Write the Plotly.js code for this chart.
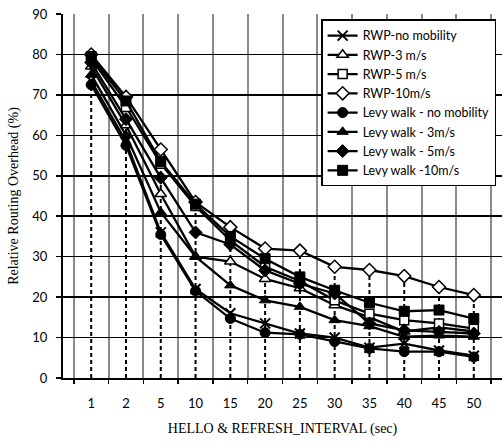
<!DOCTYPE html>
<html>
<head>
<meta charset="utf-8">
<script src="https://cdn.plot.ly/plotly-3.0.1.min.js"></script>
<style>
html,body{margin:0;padding:0;background:#fff;overflow:hidden;}
#chart{width:502px;height:443px;}
</style>
</head>
<body>
<div id="chart"></div>
<script>
const categories = ['1','2','5','10','15','20','25','30','35','40','45','50'];

const seriesNames = ['RWP-no mobility','RWP-3 m/s','RWP-5 m/s','RWP-10m/s',
  'Levy walk - no mobility','Levy walk - 3m/s','Levy walk - 5m/s','Levy walk -10m/s'];

const rwpNoMobility  = [73.5, 58.5, 36.0, 22.0, 16.0, 13.5, 11.0, 10.0, 7.5, 8.5, 6.8, 5.5];
const rwp3           = [77.0, 62.5, 45.5, 30.0, 28.8, 24.5, 22.2, 18.0, 15.0, 11.5, 12.5, 11.5];
const rwp5           = [79.0, 67.0, 53.0, 42.5, 34.0, 27.5, 24.0, 19.2, 15.9, 14.3, 13.5, 12.2];
const rwp10          = [80.0, 69.5, 56.5, 43.5, 37.3, 32.0, 31.5, 27.5, 26.7, 25.2, 22.5, 20.5];
const levyNoMobility = [72.5, 57.5, 35.5, 21.5, 14.7, 11.2, 10.8, 9.0, 7.3, 6.5, 6.5, 5.2];
const levy3          = [75.0, 60.0, 41.0, 30.0, 22.9, 19.2, 17.6, 14.3, 12.8, 10.2, 10.5, 10.2];
const levy5          = [78.0, 64.0, 49.5, 36.0, 33.0, 26.6, 23.3, 20.9, 13.5, 11.8, 11.4, 11.0];
const levy10         = [79.5, 68.5, 53.5, 43.0, 35.0, 29.5, 25.0, 21.7, 18.6, 16.5, 16.8, 14.7];

const allSeries = [rwpNoMobility, rwp3, rwp5, rwp10, levyNoMobility, levy3, levy5, levy10];
const markerStyles = [
  {symbol:'x-thin', size:10, color:'black', line:{color:'black', width:2}},
  {symbol:'triangle-up', size:10, color:'white', line:{color:'black', width:1.5}},
  {symbol:'square', size:9, color:'white', line:{color:'black', width:1.5}},
  {symbol:'diamond', size:10, color:'white', line:{color:'black', width:1.5}},
  {symbol:'circle', size:10, color:'black', line:{color:'black', width:1}},
  {symbol:'triangle-up', size:10, color:'black', line:{color:'black', width:1}},
  {symbol:'diamond', size:10, color:'black', line:{color:'black', width:1}},
  {symbol:'square', size:10, color:'black', line:{color:'black', width:1}}
];

// drop lines from axis up to the highest point of each category
const dropX = [], dropY = [];
categories.forEach((c, i) => {
  const mx = Math.max(...allSeries.map(s => s[i]));
  dropX.push(c, c, null);
  dropY.push(0, mx, null);
});

const traces = [{
  x: dropX, y: dropY, mode: 'lines', type: 'scatter', showlegend: false,
  hoverinfo: 'skip', line: {color: 'black', width: 2, dash: '4px,3px'}
}];
allSeries.forEach((s, k) => {
  traces.push({
    x: categories, y: s, name: seriesNames[k], type: 'scatter', mode: 'lines+markers',
    line: {color: 'black', width: 2.3}, marker: markerStyles[k]
  });
});

const layout = {
  width: 502, height: 443,
  margin: {l: 63, r: 0, t: 14, b: 65},
  paper_bgcolor: 'white', plot_bgcolor: 'white',
  font: {family: 'Lato, "Liberation Sans", sans-serif', size: 13, color: 'black'},
  showlegend: true,
  legend: {
    x: 0.588, y: 0.985, xanchor: 'left', yanchor: 'top',
    bgcolor: 'white', bordercolor: 'black', borderwidth: 1.5,
    font: {family: 'Lato, "Liberation Sans", sans-serif', size: 12.5, color: 'black'},
    itemwidth: 30, tracegroupgap: 0
  },
  xaxis: {
    type: 'category', categoryorder: 'array', categoryarray: categories,
    tickson: 'boundaries', showgrid: true, gridcolor: '#8a8a8a', gridwidth: 2,
    ticks: 'outside', ticklen: 4, tickcolor: 'black', tickwidth: 1.5,
    showline: true, linecolor: 'black', linewidth: 2,
    ticklabelstandoff: 12, zeroline: false,
    title: {text: 'HELLO &amp; REFRESH_INTERVAL (sec)', standoff: 14,
      font: {family: '"Liberation Serif", "Times New Roman", serif', size: 14, color: 'black'}}
  },
  yaxis: {
    range: [0, 90], dtick: 10, showgrid: true, gridcolor: 'black', gridwidth: 1.5,
    ticks: 'outside', ticklen: 5, tickcolor: 'black', tickwidth: 1.5,
    showline: true, linecolor: 'black', linewidth: 2, zeroline: false,
    ticklabelstandoff: 6,
    title: {text: 'Relative Routing Overhead (%)', standoff: 10,
      font: {family: '"Liberation Serif", "Times New Roman", serif', size: 14, color: 'black'}}
  }
};

Plotly.newPlot('chart', traces, layout, {displayModeBar: false, staticPlot: true});
</script>
</body>
</html>
